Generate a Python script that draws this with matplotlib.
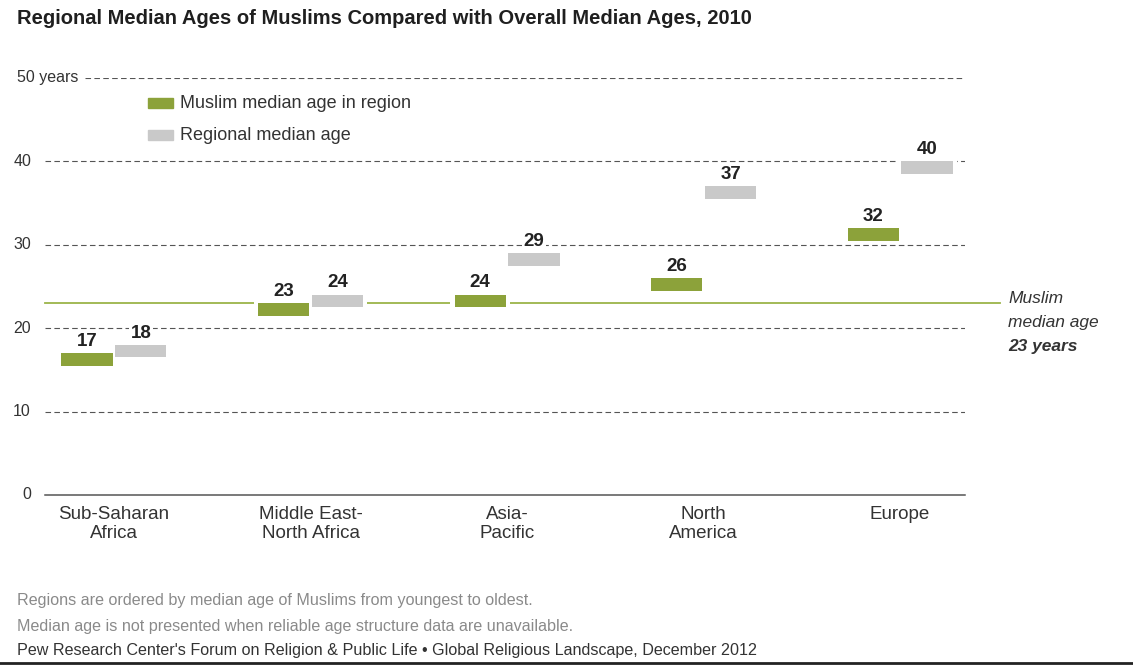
import matplotlib
matplotlib.use("Agg")
from matplotlib import pyplot as plt
from matplotlib import transforms
import numpy as np

# data
regions = ["Sub-Saharan\nAfrica", "Middle East-\nNorth Africa", "Asia-\nPacific",
           "North\nAmerica", "Europe"]
muslim_age = [17, 23, 24, 26, 32]
regional_age = [18, 24, 29, 37, 40]
muslim_overall = 23
yticks = [0, 10, 20, 30, 40, 50]
ytick_labels = ["0", "10", "20", "30", "40", "50 years"]

green = "#8ca23a"
grey_bar = "#c9c9c9"
line_green = "#9bb449"
plt.rcParams["font.family"] = ["Liberation Sans", "DejaVu Sans"]

fig = plt.figure(figsize=(11.33, 6.67), dpi=100)
ax = fig.add_axes([0.0397, 0.2579, 0.812, 0.6252])

x = np.arange(len(regions))
off = 0.137
w = 0.26
h = 1.5
pad_x = 0.022
pad_y = 0.35

# gridlines (dashed); the 50 line starts after its label
for t in yticks[1:]:
    xmin = 0.043 if t == 50 else 0.0
    ax.axhline(t, xmin=xmin, xmax=1, color="#555555", lw=0.8,
               ls=(0, (5, 3)), zorder=1)
ax.axhline(0, color="#555555", lw=1.1, zorder=1, clip_on=False)

# overall Muslim median age line
ax.axhline(muslim_overall, xmin=0, xmax=1.038, color=line_green, lw=1.3,
           clip_on=False, zorder=2)

# white halo behind each marker, then the marker itself
for xs, vals, col in ((x - off, muslim_age, green), (x + off, regional_age, grey_bar)):
    vals = np.array(vals)
    ax.bar(xs, h + 2 * pad_y, width=w + 2 * pad_x, bottom=vals - h - pad_y,
           color="white", zorder=2.5)
    ax.bar(xs, h, width=w, bottom=vals - h, color=col, zorder=3)

for xi, m, r in zip(x, muslim_age, regional_age):
    for xx, v in ((xi - off, m), (xi + off, r)):
        ax.text(xx, v + 0.4, str(v), ha="center", va="bottom", fontsize=13.5,
                fontweight="bold", color="#222222", zorder=5,
                bbox=dict(boxstyle="square,pad=0.1", fc="white", ec="none"))

ax.set_xlim(-0.351, 4.33)
ax.set_ylim(0, 50)
ax.set_xticks([])
ax.set_yticks([])
for s in ax.spines.values():
    s.set_visible(False)

# y labels
trans = transforms.blended_transform_factory(fig.transFigure, ax.transData)
for t, lab in zip(yticks, ytick_labels):
    if t == 50:
        ax.text(17 / 1133, t, lab, transform=trans, ha="left", va="center",
                fontsize=11.5, color="#333333")
    else:
        ax.text(31 / 1133, t, lab, transform=trans, ha="right", va="center",
                fontsize=11.5, color="#333333")

# category labels
for xi, lab in zip(x, regions):
    ax.text(xi, -1.3, lab, ha="center", va="top", fontsize=13.5,
            color="#333333", linespacing=1.15)

# annotation for overall line
ya = ax.get_yaxis_transform()
ax.text(1.047, 23.6, "Muslim", transform=ya, ha="left", va="center",
        fontsize=12.5, style="italic", color="#333333")
ax.text(1.047, 20.7, "median age", transform=ya, ha="left", va="center",
        fontsize=12.5, style="italic", color="#333333")
ax.text(1.047, 17.8, "23 years", transform=ya, ha="left", va="center",
        fontsize=12.5, style="italic", fontweight="bold", color="#333333")

# legend drawn by hand
fig.patches.append(plt.Rectangle((148 / 1133, 1 - 108 / 667), 25 / 1133, 10 / 667,
                                 transform=fig.transFigure, color=green))
fig.patches.append(plt.Rectangle((148 / 1133, 1 - 140 / 667), 25 / 1133, 10 / 667,
                                 transform=fig.transFigure, color=grey_bar))
fig.text(180 / 1133, 1 - 104 / 667, "Muslim median age in region", fontsize=13,
         va="center", color="#333333")
fig.text(180 / 1133, 1 - 136 / 667, "Regional median age", fontsize=13,
         va="center", color="#333333")

# title and notes
fig.text(17 / 1133, 1 - 19 / 667,
         "Regional Median Ages of Muslims Compared with Overall Median Ages, 2010",
         fontsize=14.5, fontweight="bold", va="center", color="#1f1f1f")
fig.text(17 / 1133, 1 - 600 / 667,
         "Regions are ordered by median age of Muslims from youngest to oldest.",
         fontsize=11.6, va="center", color="#8a8a8a")
fig.text(17 / 1133, 1 - 626 / 667,
         "Median age is not presented when reliable age structure data are unavailable.",
         fontsize=11.6, va="center", color="#8a8a8a")
fig.text(17 / 1133, 1 - 651 / 667,
         "Pew Research Center's Forum on Religion & Public Life \u2022 Global Religious Landscape, December 2012",
         fontsize=11.6, va="center", color="#333333")
fig.add_artist(plt.Line2D([0, 1], [1 - 663 / 667] * 2, color="#222222", lw=2,
                          transform=fig.transFigure))

fig.savefig("out.png", dpi=100)
